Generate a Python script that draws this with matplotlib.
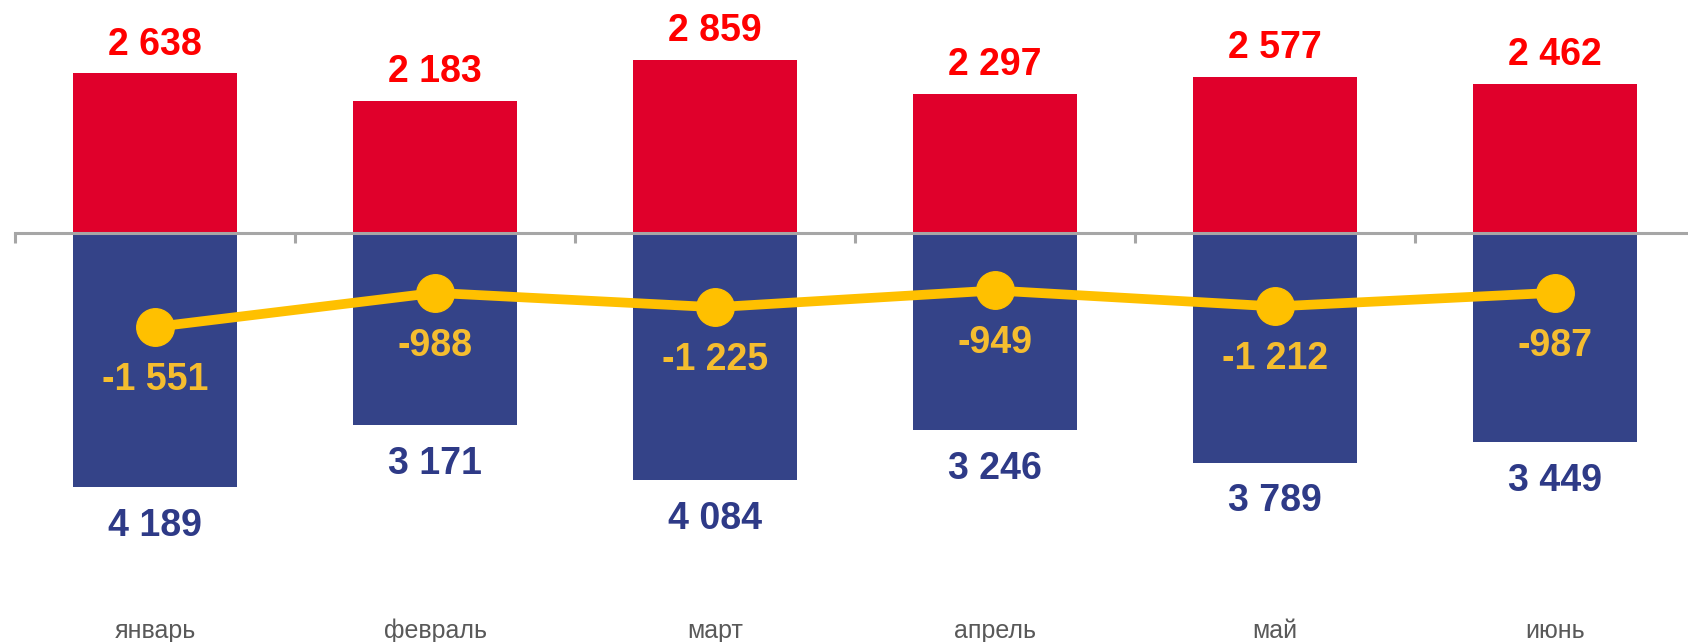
import numpy as np
import matplotlib.pyplot as plt
from matplotlib.ticker import FixedLocator, NullFormatter

plt.rcParams['font.family'] = ['Liberation Sans', 'DejaVu Sans']

# данные по месяцам
months = ['январь', 'февраль', 'март', 'апрель', 'май', 'июнь']
export_vals = [2638, 2183, 2859, 2297, 2577, 2462]
import_vals = [4189, 3171, 4084, 3246, 3789, 3449]
balance_vals = [-1551, -988, -1225, -949, -1212, -987]

red = '#E0002B'
blue = '#344388'
gold = '#FFC000'


def fmt(v):
    return f"{v:,}".replace(',', ' ')


fig = plt.figure(figsize=(16.88, 6.42), dpi=100)
ax = fig.add_axes([0, 0, 1, 1])

x = np.arange(len(months))
w = 0.585
ax.bar(x, export_vals, width=w, color=red, zorder=2)
ax.bar(x, [-v for v in import_vals], width=w, color=blue, zorder=2)
ax.plot(x, balance_vals, color=gold, lw=7, marker='o', ms=27, zorder=4)

for i in range(len(months)):
    ax.annotate(fmt(export_vals[i]), (x[i], export_vals[i]), xytext=(0, 7.5),
                textcoords='offset points', ha='center', va='bottom',
                fontsize=27, fontweight='bold', color='#FF0000')
    ax.annotate(fmt(import_vals[i]), (x[i], -import_vals[i]), xytext=(0, -15),
                textcoords='offset points', ha='center', va='top',
                fontsize=27, fontweight='bold', color='#2E3A87')
    ax.annotate(fmt(balance_vals[i]), (x[i], balance_vals[i]), xytext=(0, -38),
                textcoords='offset points', ha='center', va='center',
                fontsize=27, fontweight='bold', color='#F5BD2F', zorder=5)
    ax.text(x[i], 0.006, months[i], transform=ax.get_xaxis_transform(),
            ha='center', va='baseline', fontsize=18, color='#595959')

ax.set_xlim(-0.554, 5.475)
ax.set_ylim(-6750, 3845)

for s in ['top', 'left', 'right']:
    ax.spines[s].set_visible(False)
ax.spines['bottom'].set_position(('data', 0))
ax.spines['bottom'].set_bounds(-0.5, 5.6)
ax.spines['bottom'].set_color('#A6A6A6')
ax.spines['bottom'].set_linewidth(2.2)
ax.spines['bottom'].set_zorder(3)
ax.set_yticks([])
ax.set_xticks([])
ax.xaxis.set_minor_locator(FixedLocator(np.arange(-0.5, 5.0, 1.0)))
ax.xaxis.set_minor_formatter(NullFormatter())
ax.tick_params(axis='x', which='minor', direction='out', length=7,
               width=2.2, color='#A6A6A6')
ax.set_facecolor('white')

fig.savefig('out.png', dpi=100, facecolor='white')
